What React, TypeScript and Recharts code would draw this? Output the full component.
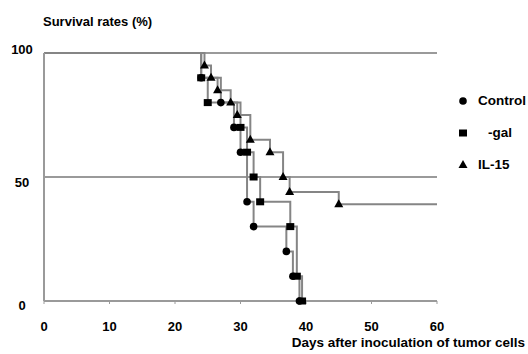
import { LineChart, Line, XAxis, YAxis, ReferenceLine } from "recharts";

// survival steps: day of death -> survival after that day (%)
const controlDays = [24, 27, 29, 30, 31, 32, 37, 38, 39];
const controlRates = [90, 80, 70, 60, 40, 30, 20, 10, 0];
const galDays = [24, 25, 30, 31, 32, 33, 37.6, 38.6, 39.4];
const galRates = [90, 80, 70, 60, 50, 40, 30, 10, 0];
const il15Days = [24.5, 25.5, 26.5, 28.5, 29.5, 31.5, 34.5, 36.5, 37.5, 45];
const il15Rates = [95, 90, 85, 80, 75, 65, 60, 50, 44, 39];

const xTicks = [0, 10, 20, 30, 40, 50, 60];
const yTicks = [0, 50, 100];

const series = [
  { name: "Control", label: "Control", shape: "circle", days: controlDays, rates: controlRates },
  { name: "gal", label: "-gal", shape: "square", days: galDays, rates: galRates },
  { name: "IL-15", label: "IL-15", shape: "triangle", days: il15Days, rates: il15Rates },
];

const FONT = "'Liberation Sans', Arial, sans-serif";
const LINE = "#858585";
const GRID = "#9a9a9a";

// start at (0,100), carry the last value to day 60 when it doesn't reach 0
const buildRows = (days: number[], rates: number[]) => {
  const rows = [{ day: 0, rate: 100 }];
  days.forEach((d, i) => rows.push({ day: d, rate: rates[i] }));
  if (rates[rates.length - 1] > 0) rows.push({ day: 60, rate: rates[rates.length - 1] });
  return rows;
};

const Marker = ({ shape, cx, cy }: { shape: string; cx: number; cy: number }) => {
  if (shape === "circle") return <circle cx={cx} cy={cy} r={3.8} fill="#000" />;
  if (shape === "square") return <rect x={cx - 4} y={cy - 3.5} width={8} height={7} fill="#000" />;
  return <polygon points={`${cx},${cy - 5} ${cx + 4.5},${cy + 3} ${cx - 4.5},${cy + 3}`} fill="#000" />;
};

const makeDot = (shape: string) => (props: any) => {
  const { cx, cy, payload, index } = props;
  if (payload.day === 0 || payload.day === 60) return <g key={`d-${index}`} />;
  return (
    <g key={`d-${index}`}>
      <Marker shape={shape} cx={cx} cy={cy} />
    </g>
  );
};

const yLabelShift: Record<number, number> = { 100: -4, 50: 5, 0: 4 };

const YTick = ({ y, payload }: any) => (
  <text
    x={22}
    y={y + yLabelShift[payload.value]}
    textAnchor="middle"
    dominantBaseline="central"
    fontFamily={FONT}
    fontWeight="bold"
    fontSize={13}
    fill="#000"
  >
    {payload.value}
  </text>
);

const XTick = ({ x, y, payload }: any) => (
  <text
    x={x}
    y={y + 20}
    textAnchor="middle"
    dominantBaseline="central"
    fontFamily={FONT}
    fontWeight="bold"
    fontSize={13}
    fill="#000"
  >
    {payload.value}
  </text>
);

const LegendBox = () => (
  <div style={{ position: "absolute", left: 457, top: 93, fontFamily: FONT, fontWeight: "bold", fontSize: 13.5 }}>
    {series.map((s, i) => (
      <div key={s.name} style={{ position: "absolute", left: 0, top: i * 32, height: 16, width: 80 }}>
        <svg width={12} height={12} style={{ position: "absolute", left: 0, top: 2 }}>
          <Marker shape={s.shape} cx={6} cy={6} />
        </svg>
        <span style={{ position: "absolute", left: s.name === "gal" ? 31 : 21, top: 0, lineHeight: "16px", whiteSpace: "nowrap" }}>
          {s.label}
        </span>
      </div>
    ))}
  </div>
);

export default function App() {
  return (
    <div style={{ position: "absolute", left: 0, top: 0, width: 528, height: 354, background: "#fff" }}>
      <div
        style={{
          position: "absolute",
          left: 43,
          top: 14,
          fontFamily: FONT,
          fontWeight: "bold",
          fontSize: 13,
          whiteSpace: "nowrap",
        }}
      >
        Survival rates (%)
      </div>
      <div
        style={{
          position: "absolute",
          right: 3,
          top: 335,
          fontFamily: FONT,
          fontWeight: "bold",
          fontSize: 13.5,
          whiteSpace: "nowrap",
        }}
      >
        Days after inoculation of tumor cells
      </div>
      <LineChart width={528} height={354} margin={{ top: 53, right: 91, left: 0, bottom: 23 }}>
        <XAxis
          type="number"
          dataKey="day"
          domain={[0, 60]}
          ticks={xTicks}
          interval={0}
          axisLine={{ stroke: GRID, strokeWidth: 2 }}
          tickLine={{ stroke: GRID, strokeWidth: 1 }}
          tickSize={3}
          height={30}
          tick={<XTick />}
        />
        <YAxis
          type="number"
          domain={[0, 100]}
          ticks={yTicks}
          interval={0}
          width={44}
          axisLine={{ stroke: GRID, strokeWidth: 2 }}
          tickLine={false}
          tick={<YTick />}
        />
        <ReferenceLine y={100} stroke={GRID} strokeWidth={2} />
        <ReferenceLine y={50} stroke={GRID} strokeWidth={2} />
        {series.map((s) => (
          <Line
            key={s.name}
            name={s.label}
            data={buildRows(s.days, s.rates)}
            dataKey="rate"
            type="stepAfter"
            stroke={LINE}
            strokeWidth={2}
            dot={makeDot(s.shape)}
            activeDot={false}
            isAnimationActive={false}
          />
        ))}
      </LineChart>
      <LegendBox />
    </div>
  );
}
